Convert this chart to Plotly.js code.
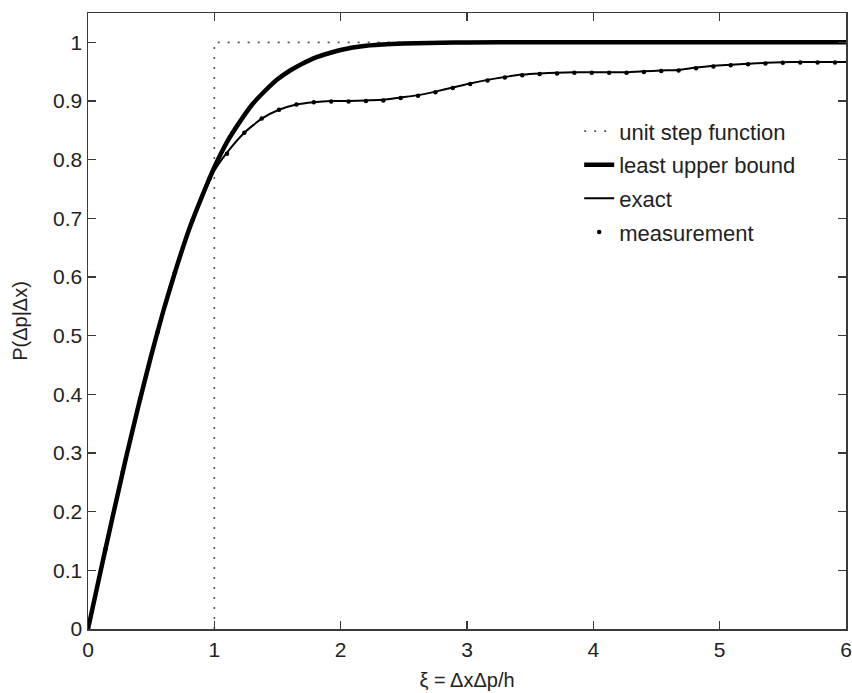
<!DOCTYPE html>
<html>
<head>
<meta charset="utf-8">
<script src="https://cdn.plot.ly/plotly-3.0.1.min.js"></script>
<style>html,body{margin:0;padding:0;background:#fff;}#chart{width:852px;height:693px;}</style>
</head>
<body>
<div id="chart"></div>
<script>
// Unit step function (the zero part lies under the x axis)
const xiStep = [1, 1, 6];
const stepP = [0, 1, 1];

// Least upper bound
const xiBound = [0, 0.1, 0.2, 0.3, 0.4, 0.5, 0.6, 0.7, 0.8, 0.9, 1.0, 1.1, 1.2, 1.3, 1.4, 1.5, 1.6, 1.7, 1.8, 1.9, 2.0, 2.2, 2.4, 2.6, 2.8, 3.0, 3.5, 4.0, 5.0, 6.0];
const boundP = [0, 0.099, 0.196, 0.291, 0.381, 0.466, 0.545, 0.616, 0.681, 0.736, 0.787, 0.830, 0.864, 0.894, 0.917, 0.937, 0.952, 0.964, 0.974, 0.981, 0.987, 0.994, 0.997, 0.9986, 0.9994, 0.9998, 1.0, 1.0, 1.0, 1.0];

// Exact
const xiExact = [0, 0.1, 0.2, 0.3, 0.4, 0.5, 0.6, 0.7, 0.8, 0.9, 1.0, 1.1, 1.2375, 1.375, 1.5125, 1.65, 1.7875, 1.925, 2.0625, 2.2, 2.3375, 2.475, 2.6125, 2.75, 2.8875, 3.025, 3.1625, 3.3, 3.4375, 3.575, 3.7125, 3.85, 3.9875, 4.125, 4.2625, 4.4, 4.5375, 4.675, 4.8125, 4.95, 5.0875, 5.225, 5.3625, 5.5, 5.6375, 5.775, 5.9125, 6.0];
const exactP = [0, 0.099, 0.196, 0.291, 0.381, 0.466, 0.545, 0.616, 0.681, 0.734, 0.781, 0.812, 0.846, 0.870, 0.885, 0.894, 0.898, 0.900, 0.900, 0.901, 0.902, 0.906, 0.910, 0.916, 0.923, 0.930, 0.936, 0.941, 0.945, 0.947, 0.948, 0.949, 0.949, 0.949, 0.949, 0.9505, 0.952, 0.953, 0.957, 0.960, 0.962, 0.9636, 0.965, 0.966, 0.9665, 0.9665, 0.9665, 0.9665];

// Measurement
const xiMeas = [0, 0.1375, 0.275, 0.4125, 0.55, 0.6875, 0.825, 0.9625, 1.1, 1.2375, 1.375, 1.5125, 1.65, 1.7875, 1.925, 2.0625, 2.2, 2.3375, 2.475, 2.6125, 2.75, 2.8875, 3.025, 3.1625, 3.3, 3.4375, 3.575, 3.7125, 3.85, 3.9875, 4.125, 4.2625, 4.4, 4.5375, 4.675, 4.8125, 4.95, 5.0875, 5.225, 5.3625, 5.5, 5.6375, 5.775, 5.9125];
const measP = [0, 0.136, 0.268, 0.392, 0.506, 0.608, 0.696, 0.768, 0.810, 0.846, 0.870, 0.885, 0.894, 0.898, 0.899, 0.899, 0.900, 0.901, 0.905, 0.909, 0.915, 0.922, 0.929, 0.935, 0.940, 0.944, 0.946, 0.947, 0.948, 0.948, 0.948, 0.948, 0.9495, 0.951, 0.952, 0.956, 0.959, 0.961, 0.9626, 0.964, 0.965, 0.9655, 0.9655, 0.9655];

const seriesNames = ['unit step function', 'least upper bound', 'exact', 'measurement'];
const xTicks = [0, 1, 2, 3, 4, 5, 6];
const yTicks = [0, 0.1, 0.2, 0.3, 0.4, 0.5, 0.6, 0.7, 0.8, 0.9, 1];
const xTitle = 'ξ = ΔxΔp/h';
const yTitle = 'P(Δp|Δx)';

const FONT = 'Liberation Sans, Arial, sans-serif';

const traces = [
  {x: xiStep, y: stepP, name: seriesNames[0], mode: 'lines', legendgroup: 'a',
   line: {color: '#555', width: 1.6, dash: '2px,8px'}},
  {x: xiBound, y: boundP, name: seriesNames[1], mode: 'lines', legendgroup: 'b',
   line: {color: '#000', width: 4.5, shape: 'spline', smoothing: 0.5}},
  {x: xiExact, y: exactP, name: seriesNames[2], mode: 'lines', legendgroup: 'c',
   line: {color: '#000', width: 2, shape: 'spline', smoothing: 0.5}},
  {x: xiMeas, y: measP, name: seriesNames[3], mode: 'markers', legendgroup: 'd',
   marker: {color: '#000', size: 4.5, symbol: 'circle'}}
];

const axisCommon = {
  showgrid: false, zeroline: false, showline: true, linecolor: '#3a3a3a', linewidth: 1.5,
  mirror: 'ticks', ticks: 'inside', ticklen: 8, tickwidth: 1.2, tickcolor: '#3a3a3a',
  layer: 'above traces',
  tickfont: {family: FONT, size: 21, color: '#222'}
};

const layout = {
  width: 852, height: 693,
  margin: {l: 88, r: 6, t: 13, b: 64},
  paper_bgcolor: '#fff', plot_bgcolor: '#fff',
  showlegend: true,
  legend: {x: 0.648, y: 0.842, xanchor: 'left', yanchor: 'top', bgcolor: 'rgba(0,0,0,0)',
           font: {family: FONT, size: 22, color: '#222'}, traceorder: 'grouped', tracegroupgap: 2},
  xaxis: Object.assign({}, axisCommon, {range: [0, 6], tickvals: xTicks, ticktext: xTicks.map(String),
    ticklabelstandoff: 1,
    title: {text: xTitle, font: {family: FONT, size: 20, color: '#222'}, standoff: 13}}),
  yaxis: Object.assign({}, axisCommon, {range: [0, 1.05], tickvals: yTicks, ticktext: yTicks.map(String),
    title: {text: yTitle, font: {family: FONT, size: 20, color: '#222'}, standoff: 20}})
};

Plotly.newPlot('chart', traces, layout, {staticPlot: true});
</script>
</body>
</html>
